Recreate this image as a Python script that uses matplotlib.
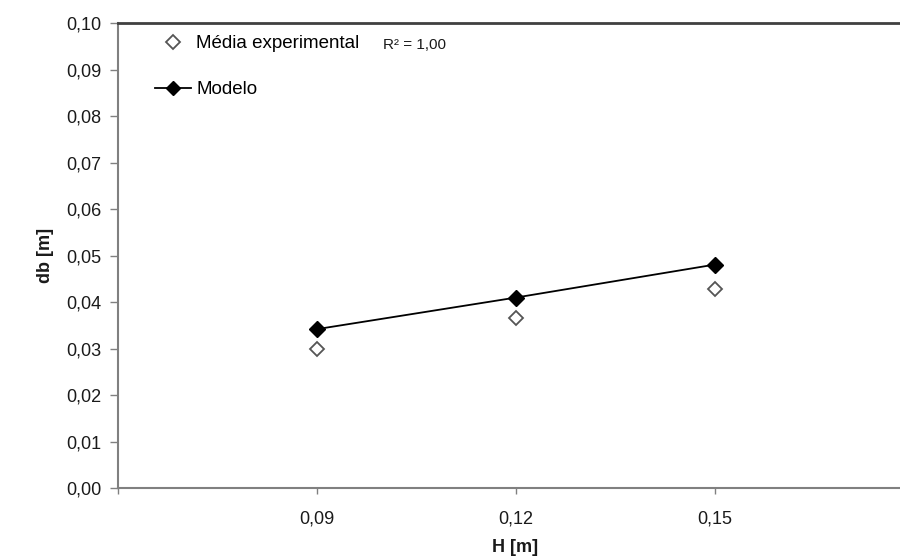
import matplotlib.pyplot as plt
from matplotlib.lines import Line2D
from matplotlib.ticker import FuncFormatter

plt.rcParams['font.family'] = ['Liberation Sans', 'DejaVu Sans']

# bed height H [m] and bubble diameter db [m]
h_values = [0.09, 0.12, 0.15]
db_experimental = [0.0300, 0.0365, 0.0428]
db_modelo = [0.0342, 0.0410, 0.0481]
x_ticks = [0.06, 0.09, 0.12, 0.15, 0.18]
y_ticks = [0.00, 0.01, 0.02, 0.03, 0.04, 0.05, 0.06, 0.07, 0.08, 0.09, 0.10]
r2_label = 'R² = 1,00'

fig = plt.figure(figsize=(9, 5.59), dpi=100)
ax = fig.add_axes([0.1311, 0.127, 0.8844, 0.831])

ax.plot(h_values, db_modelo, color='black', lw=1.3, marker='D', ms=8,
        mfc='black', mec='black', zorder=3)
ax.plot(h_values, db_experimental, ls='none', marker='D', ms=7.5,
        mfc='white', mec='#555555', mew=1.3, zorder=3)

ax.set_xlim(0.06, 0.18)
ax.set_ylim(0.0, 0.10)
ax.set_xticks(x_ticks)
ax.set_yticks(y_ticks)


def comma_fmt(v, pos):
    if abs(v - 0.06) < 1e-9 or v > 0.17:
        return ''
    return f'{v:.2f}'.replace('.', ',')


ax.xaxis.set_major_formatter(FuncFormatter(comma_fmt))
ax.yaxis.set_major_formatter(FuncFormatter(lambda v, p: f'{v:.2f}'.replace('.', ',')))
ax.tick_params(axis='y', direction='out', length=6, width=1, color='#808080',
               labelsize=13, pad=6, labelcolor='#1a1a1a')
ax.tick_params(axis='x', direction='out', length=4, width=1, color='#808080',
               labelsize=13, pad=12, labelcolor='#1a1a1a')

ax.spines['right'].set_visible(False)
ax.spines['left'].set_color('#808080')
ax.spines['left'].set_linewidth(1.5)
ax.spines['bottom'].set_color('#808080')
ax.spines['bottom'].set_linewidth(1.5)
ax.spines['top'].set_color('#404040')
ax.spines['top'].set_linewidth(2)

fig.text(45 / 900, 1 - 255 / 559, 'db [m]', rotation=90, fontsize=13,
         fontweight='bold', ha='center', va='center', color='#1a1a1a')
fig.text(515 / 900, 1 - 548 / 559, 'H [m]', fontsize=13, fontweight='bold',
         ha='center', va='center', color='#1a1a1a')

handles = [
    Line2D([], [], ls='none', marker='D', ms=7, mfc='white', mec='#555555', mew=1.3),
    Line2D([], [], color='black', lw=1.3, marker='D', ms=7.5, mfc='black', mec='black'),
]
ax.legend(handles, ['Média experimental', 'Modelo'], frameon=False,
          loc='upper left', bbox_to_anchor=(155 / 900, 1 - 35 / 559),
          bbox_transform=fig.transFigure, fontsize=13.5, handlelength=1.9,
          handletextpad=0.3, labelspacing=1.55, borderaxespad=0, borderpad=0)

fig.text(383 / 900, 1 - 45 / 559, r2_label, fontsize=11, ha='left',
         va='center', color='#1a1a1a')

plt.savefig('out.png', dpi=100)
